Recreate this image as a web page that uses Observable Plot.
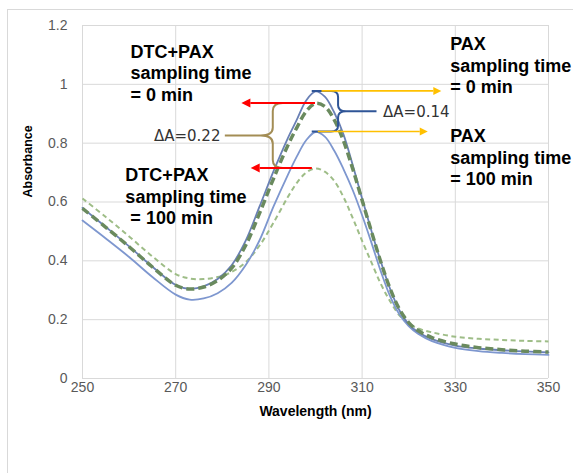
<!DOCTYPE html>
<html><head><meta charset="utf-8">
<script src="https://cdn.jsdelivr.net/npm/d3@7"></script>
<script src="https://cdn.jsdelivr.net/npm/@observablehq/plot@0.6"></script>
<style>
html,body{margin:0;padding:0;background:#fff;}
#wrap{position:relative;width:573px;height:473px;overflow:hidden;background:#fff;}
#frame{position:absolute;left:7px;top:9px;width:700px;height:700px;border:1px solid #d9d9d9;box-sizing:border-box;}
#chart{position:absolute;left:0;top:0;}
</style></head>
<body><div id="wrap"><div id="frame"></div><div id="chart"></div></div>
<script>
// ---- data ----
const wavelength = [250,255,260,265,270,273,276,279,282,285,288,291,294,296,298,300,302,304,306,308,310,312,314,316,318,320,322,325,330,335,340,345,350];
const pax0   = [.580,.515,.449,.380,.318,.305,.313,.338,.385,.468,.585,.705,.815,.880,.945,.976,.958,.905,.830,.725,.612,.502,.398,.305,.232,.185,.158,.134,.112,.102,.096,.092,.089];
const pax100 = [.537,.476,.413,.345,.285,.268,.272,.290,.325,.385,.470,.585,.690,.755,.810,.838,.822,.775,.712,.640,.555,.462,.365,.280,.218,.178,.152,.127,.104,.093,.087,.083,.080];
const dtc0   = [.578,.514,.448,.379,.317,.304,.311,.333,.375,.452,.562,.680,.790,.853,.908,.935,.925,.880,.808,.712,.606,.500,.397,.306,.236,.190,.163,.139,.117,.105,.098,.093,.090];
const dtc100 = [.612,.549,.483,.415,.355,.340,.338,.345,.362,.395,.452,.530,.615,.665,.700,.714,.703,.672,.617,.545,.468,.395,.322,.263,.215,.186,.170,.157,.142,.135,.131,.128,.126];
const xTicks = [250,270,290,310,330,350];
const yTicks = [0,0.2,0.4,0.6,0.8,1,1.2];
const labelTexts = ["DTC+PAX\nsampling time\n= 0 min", "DTC+PAX\nsampling time\n\u00a0= 100 min", "PAX\nsampling time\n= 0 min", "PAX\nsampling time\n= 100 min"];
const deltaTexts = ["ΔA=0.14", "ΔA=0.22"];
const xTitle = "Wavelength (nm)";
const yTitle = "Absorbance";

const rows = arr => wavelength.map((w, i) => ({w, a: arr[i]}));
const peak = arr => d3.max(arr);

// ---- annotation layout (data coordinates) ----
const labelPos = [
  {x: 260.3, y: 1.142}, {x: 259.2, y: 0.722}, {x: 328.9, y: 1.167}, {x: 328.9, y: 0.855}
];
const arrows = [
  {x1: 301.4, x2: 327.1, y: peak(pax0),   color: "#ffc000", width: 1.6, hl: 8, hw: 4},
  {x1: 300.6, x2: 324.2, y: peak(pax100), color: "#ffc000", width: 1.6, hl: 8, hw: 4},
  {x1: 300.0, x2: 284.2, y: peak(dtc0),   color: "#ff0000", width: 2,   hl: 9, hw: 4.5},
  {x1: 299.3, x2: 286.2, y: peak(dtc100), color: "#ff0000", width: 2,   hl: 9, hw: 4.5}
];
const braces = [
  {xa: 299.3, xv: 304.95, xt: 313.2, yT: peak(pax0), yB: peak(pax100), s: 1, color: "#2f5597", crx: 7, cry: 6, trx: 8, try_: 6},
  {xa: 299.3, xv: 290.94, xt: 280.65, yT: peak(dtc0), yB: peak(dtc100), s: -1, color: "#a38d55", crx: 10, cry: 8, trx: 12, try_: 8}
];
const deltaPos = [
  {x: 314.5, y: (peak(pax0) + peak(pax100)) / 2},
  {x: 279.6, y: (peak(dtc0) + peak(dtc100)) / 2}
];

function annotate(index, scales) {
  const {x, y} = scales;
  const g = d3.create("svg:g");
  for (const b of braces) {
    const xa = x(b.xa), xv = x(b.xv), xt = x(b.xt), yT = y(b.yT), yB = y(b.yB), yM = (yT + yB) / 2, s = b.s;
    const d = `M${xa},${yT}L${xv - s*b.crx},${yT}Q${xv},${yT} ${xv},${yT + b.cry}` +
      `L${xv},${yM - b.try_}Q${xv},${yM} ${xv + s*b.trx},${yM}L${xt},${yM}` +
      `M${xv + s*b.trx},${yM}Q${xv},${yM} ${xv},${yM + b.try_}` +
      `L${xv},${yB - b.cry}Q${xv},${yB} ${xv - s*b.crx},${yB}L${xa},${yB}`;
    g.append("path").attr("d", d).attr("fill", "none").attr("stroke", b.color).attr("stroke-width", 2);
  }
  for (const a of arrows) {
    const yy = y(a.y), x1 = x(a.x1), x2 = x(a.x2), dir = Math.sign(x2 - x1);
    g.append("line").attr("x1", x1).attr("y1", yy).attr("x2", x2 - dir * a.hl).attr("y2", yy)
      .attr("stroke", a.color).attr("stroke-width", a.width);
    g.append("path").attr("d", `M${x2},${yy}L${x2 - dir * a.hl},${yy - a.hw}L${x2 - dir * a.hl},${yy + a.hw}Z`)
      .attr("fill", a.color);
  }
  return g.node();
}

const deltaStyle = {lineAnchor: "middle", fontSize: 15, fontFamily: "'DejaVu Sans', sans-serif", fill: "#333"};

const plot = Plot.plot({
  width: 573, height: 473,
  marginLeft: 82, marginRight: 25, marginTop: 25, marginBottom: 95,
  style: {fontFamily: "'Liberation Sans', Arial, sans-serif", fontSize: "14px", color: "#595959", background: "transparent", overflow: "visible"},
  x: {domain: [250, 350], ticks: xTicks, tickSize: 0, tickPadding: 4, label: null},
  y: {domain: [0, 1.2], ticks: yTicks, tickSize: 0, tickPadding: 15, tickFormat: d => String(+d.toFixed(1)), label: null},
  marks: [
    Plot.ruleX(xTicks, {stroke: "#d9d9d9", strokeWidth: 1}),
    Plot.ruleY(yTicks, {stroke: "#d9d9d9", strokeWidth: 1}),
    Plot.line(rows(dtc100), {x: "w", y: "a", stroke: "#9ebd87", strokeWidth: 2, strokeDasharray: "5,3.5", strokeLinecap: "butt", curve: "catmull-rom"}),
    Plot.line(rows(pax100), {x: "w", y: "a", stroke: "#7e97cf", strokeWidth: 1.8, curve: "catmull-rom"}),
    Plot.line(rows(pax0), {x: "w", y: "a", stroke: "#6a80b5", strokeWidth: 1.8, curve: "catmull-rom"}),
    Plot.line(rows(dtc0), {x: "w", y: "a", stroke: "#6a8a5e", strokeWidth: 3.5, strokeDasharray: "8,4", strokeLinecap: "butt", curve: "catmull-rom"}),
    annotate,
    Plot.text(labelTexts, {x: (d, i) => labelPos[i].x, y: (d, i) => labelPos[i].y, text: d => d, textAnchor: "start", lineAnchor: "top", lineHeight: 1.19, fontSize: 18, fontWeight: "bold", fill: "#000"}),
    Plot.text([deltaTexts[0]], {x: () => deltaPos[0].x, y: () => deltaPos[0].y, text: d => d, textAnchor: "start", ...deltaStyle}),
    Plot.text([deltaTexts[1]], {x: () => deltaPos[1].x, y: () => deltaPos[1].y, text: d => d, textAnchor: "end", ...deltaStyle}),
    Plot.text([yTitle], {frameAnchor: "left", text: d => d, dx: -54.7, dy: -4.5, rotate: -90, fontSize: 12.5, fontWeight: "bold", fill: "#000"}),
    Plot.text([xTitle], {frameAnchor: "bottom", text: d => d, dy: 33, lineAnchor: "middle", fontSize: 14, fontWeight: "bold", fill: "#000"})
  ]
});
document.getElementById("chart").appendChild(plot);
</script>
</body></html>
